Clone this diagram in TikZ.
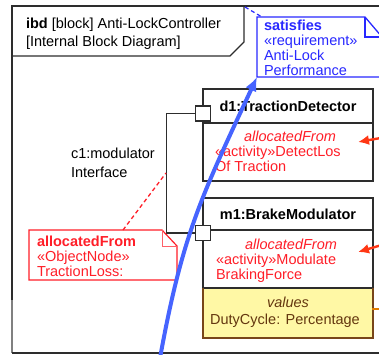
\documentclass[tikz,border=0pt]{standalone}
\usepackage{fontspec}
\setmainfont{Liberation Sans}
\usetikzlibrary{arrows.meta}
\definecolor{reqblue}{RGB}{40,40,255}
\definecolor{flowblue}{RGB}{70,100,255}
\definecolor{allocred}{RGB}{255,30,40}
\definecolor{arrowred}{RGB}{255,55,20}
\definecolor{valfill}{RGB}{255,248,165}
\definecolor{valbrown}{RGB}{120,70,25}
\definecolor{valtext}{RGB}{100,55,15}
\definecolor{edgegray}{RGB}{45,45,45}
\definecolor{stuborange}{RGB}{225,125,0}

\begin{document}
\begin{tikzpicture}[x=1pt,y=-1pt,
  every node/.style={inner sep=0pt, outer sep=0pt, font=\fontsize{14.5}{15}\selectfont},
  txt/.style={anchor=base west},
  ctxt/.style={anchor=base},
  blockedge/.style={draw=edgegray, line width=1.3pt},
  port/.style={draw=edgegray, fill=white, line width=1.1pt, minimum size=15pt},
  conn/.style={draw=edgegray, line width=1.1pt},
  reqnote/.style={draw=reqblue, line width=1.3pt},
  allocnote/.style={draw=allocred, line width=1.2pt},
  allocarrow/.style={draw=arrowred, line width=2.4pt, -{Latex[length=11pt,width=10pt]}},
  flow/.style={draw=flowblue, line width=4pt, -{Latex[length=14pt,width=12pt]}}
]
\useasboundingbox (0,0) rectangle (379,354);
\clip (0,0) rectangle (379,354);

% diagram frame with its header tab
\draw[edgegray, line width=1.4pt] (12,300) -- (12,6) -- (390,6);
\draw[gray, line width=1.6pt] (12,300) -- (12,353);
\draw[edgegray, line width=1.4pt] (12,353) -- (390,353);
\draw[edgegray, line width=1.2pt] (12,56) -- (230,56) -- (244,42) -- (244,6);
\node[txt] (title1) at (26,28) {\textbf{ibd} [block] Anti-LockController};
\node[txt] (title2) at (26,46) {[Internal Block Diagram]};

% requirement note
\draw[reqnote, fill=white] (257,17) -- (365,17) -- (382,37) -- (382,77) -- (257,77) -- cycle;
\draw[reqnote] (365,17) -- (365,37) -- (382,37);
\coordinate (reqcorner) at (257,77);
\coordinate (framecorner) at (245,7);
\draw[reqblue, line width=1.2pt, dashed, dash pattern=on 4pt off 3pt] (framecorner) -- (262,17);
\begin{scope}[color=reqblue]
\node[txt] (sat) at (264,30) {\textbf{satisfies}};
\node[txt] (reqkw) at (264,45) {«requirement»};
\node[txt] (req1) at (264,60) {Anti-Lock};
\node[txt] (req2) at (264,75) {Performance};
\end{scope}

% part d1
\node[blockedge, fill=white, anchor=north west, minimum width=170pt, minimum height=92pt] (d1) at (203,89) {};
\draw[blockedge] (d1.west |- 0,123) -- (d1.east |- 0,123);
\node[ctxt] (d1name) at (288,111.5) {\textbf{d1:TractionDetector}};
\begin{scope}[color=allocred]
\node[ctxt] (d1alloc) at (290,141) {\textit{allocatedFrom}};
\node[txt] (d1act1) at (215,156) {«activity»DetectLos};
\node[txt] (d1act2) at (215,171) {Of Traction};
\end{scope}

% part m1
\fill[white] (203,198) rectangle (373,288);
\fill[valfill] (203,288) rectangle (373,338);
\draw[blockedge] (203,288) -- (203,198) -- (373,198) -- (373,288);
\draw[blockedge] (203,230) -- (373,230);
\draw[blockedge] (203,288) -- (373,288);
\draw[valbrown, line width=1.3pt] (203,288) -- (203,338) -- (373,338) -- (373,288);
\node[ctxt] (m1name) at (288,219) {\textbf{m1:BrakeModulator}};
\begin{scope}[color=allocred]
\node[ctxt] (m1alloc) at (291,249) {\textit{allocatedFrom}};
\node[txt] (m1act1) at (216,264) {«activity»Modulate};
\node[txt] (m1act2) at (216,279) {BrakingForce};
\end{scope}
\begin{scope}[color=valtext]
\node[ctxt] (valhead) at (288,307) {\textit{values}};
\node[ctxt] (valline) at (285,324) {DutyCycle: Percentage};
\end{scope}

% ports and the connector between them
\node[port] (p1) at (203,113.5) {};
\node[port] (p2) at (203,233) {};
\draw[conn] (p1.west) -- ([xshift=-29pt]p1.west) |- (p2.west);
\node[txt] (c1a) at (71,158) {c1:modulator};
\node[txt] (c1b) at (71,177) {Interface};
\coordinate (c1point) at (166,173);

% allocation note on the connector
\draw[allocnote, fill=white] (29,230) -- (162,230) -- (177,246) -- (177,280) -- (29,280) -- cycle;
\draw[allocred!70, line width=1pt] (162,230) -- (162,246) -- (177,246);
\coordinate (notetop) at (123,230);
\draw[allocred, line width=1.3pt, dashed, dash pattern=on 4pt off 3pt] (notetop) -- (c1point);
\begin{scope}[color=allocred]
\node[txt] (na) at (37,246) {\textbf{allocatedFrom}};
\node[txt] (nb) at (37,261) {«ObjectNode»};
\node[txt] (nc) at (37,276) {TractionLoss:};
\end{scope}

% allocation arrows entering from the right
\coordinate (ra1) at (392,136);
\coordinate (ra2) at (392,242);
\coordinate (rt1) at (358,142);
\coordinate (rt2) at (358,252);
\draw[allocarrow] (ra1) -- (rt1);
\draw[allocarrow] (ra2) -- (rt2);
\draw[stuborange, line width=2.4pt] (372,309) -- (390,309);

% satisfy flow
\coordinate (flowstart) at (160,358);
\draw[flow] (flowstart) .. controls (182.5,234.5) and (201,197) .. (reqcorner);
\end{tikzpicture}
\end{document}
